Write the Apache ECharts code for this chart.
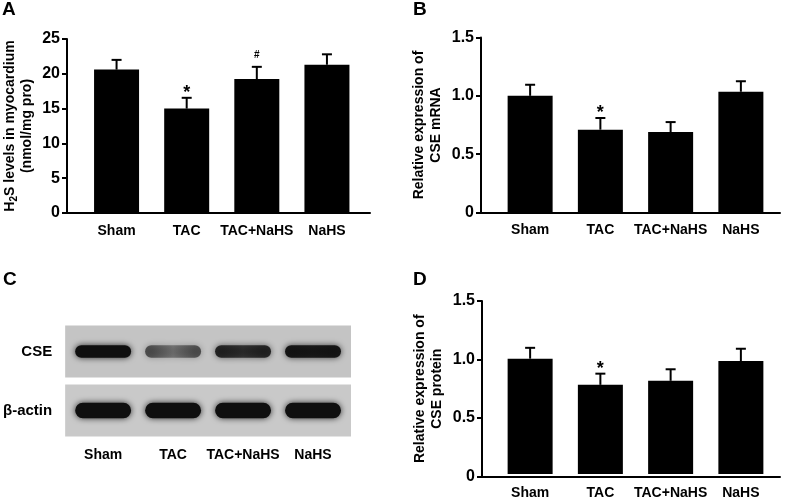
<!DOCTYPE html>
<html><head><meta charset="utf-8">
<script src="https://cdn.jsdelivr.net/npm/echarts@6/dist/echarts.min.js"></script>
<style>html,body{margin:0;padding:0;background:#fff}#c{width:785px;height:500px}</style>
</head><body><div id="c"></div>
<script>
// ---------- data ----------
const categories = ['Sham', 'TAC', 'TAC+NaHS', 'NaHS'];

// Panel A: H2S levels (nmol/mg pro)
const h2sMean = [20.6, 15.0, 19.25, 21.3];
const h2sSem = [1.4, 1.55, 1.75, 1.5];
const h2sMarks = ['', '*', '#', ''];
const h2sTicks = ['0', '5', '10', '15', '20', '25'];

// Panel B: relative CSE mRNA
const mrnaMean = [1.0, 0.71, 0.69, 1.035];
const mrnaSem = [0.095, 0.10, 0.085, 0.09];
const mrnaMarks = ['', '*', '', ''];

// Panel D: relative CSE protein
const proteinMean = [1.0, 0.773, 0.808, 0.98];
const proteinSem = [0.094, 0.097, 0.10, 0.106];
const proteinMarks = ['', '*', '', ''];

const relTicks = ['0', '0.5', '1.0', '1.5'];

// Panel C: western blot band intensities (relative darkness)
const blotRows = ['β-actin', 'CSE'];
const cseBand = [1.0, 0.62, 0.85, 0.95];
const actinBand = [1.0, 1.0, 1.0, 1.0];

// ---------- build ----------
const FONT = '"Liberation Sans", Arial, Helvetica, sans-serif';
const grid = [], xAxis = [], yAxis = [], series = [];

function addBarPanel(p) {
  const g = grid.length, xi = xAxis.length, yi = yAxis.length;
  grid.push({left: p.frame[0], top: p.frame[1], width: p.frame[2], height: p.frame[3]});
  grid.push({left: p.plotLeft, top: p.frame[1], width: p.plotWidth, height: p.frame[3]});
  const step = p.max / (p.ticks.length - 1);
  xAxis.push({type: 'value', gridIndex: g, min: 0, max: 1,
    axisLine: {show: true, onZero: false, lineStyle: {color: '#000', width: 2}},
    axisTick: {show: false}, axisLabel: {show: false}, splitLine: {show: false}});
  yAxis.push({type: 'value', gridIndex: g, min: 0, max: p.max, interval: step,
    axisLine: {show: true, onZero: false, lineStyle: {color: '#000', width: 2}},
    axisTick: {show: true, length: 5, lineStyle: {color: '#000', width: 2}},
    axisLabel: {color: '#000', fontSize: 16, fontWeight: 'bold', fontFamily: FONT, margin: 7,
      formatter: v => p.ticks[Math.round(v / step)]},
    splitLine: {show: false},
    name: p.name, nameLocation: 'middle', nameGap: p.nameGap,
    nameTextStyle: {color: '#000', fontSize: 14, fontWeight: 'bold', fontFamily: FONT, lineHeight: 17,
      rich: {s: {fontSize: 10, fontWeight: 'bold', fontFamily: FONT, color: '#000', verticalAlign: 'bottom'}}}});
  xAxis.push({type: 'category', gridIndex: g + 1, data: categories,
    axisLine: {show: false}, axisTick: {show: false},
    axisLabel: {interval: 0, margin: p.labelMargin, color: '#000', fontSize: 14, fontWeight: 'bold', fontFamily: FONT}});
  yAxis.push({type: 'value', gridIndex: g + 1, min: 0, max: p.max, show: false});
  series.push({type: 'bar', xAxisIndex: xi + 1, yAxisIndex: yi + 1, data: p.mean, barWidth: 45,
    itemStyle: {color: '#000'}, silent: true, animation: false});
  series.push({type: 'custom', xAxisIndex: xi + 1, yAxisIndex: yi + 1, silent: true, animation: false,
    data: p.mean.map((m, i) => [i, m, p.sem[i]]),
    renderItem: function (params, api) {
      const i = api.value(0), m = api.value(1), s = api.value(2);
      const base = api.coord([i, m]);
      const top = api.coord([i, m + s]);
      const x = top[0];
      const ch = [
        {type: 'line', shape: {x1: x, y1: base[1], x2: x, y2: top[1]}, style: {stroke: '#000', lineWidth: 2}},
        {type: 'line', shape: {x1: x - 5, y1: top[1], x2: x + 5, y2: top[1]}, style: {stroke: '#000', lineWidth: 2}}
      ];
      const mk = p.marks[params.dataIndex];
      if (mk) {
        const star = mk === '*';
        ch.push({type: 'text', style: {text: mk, x: x, y: top[1] - (star ? 5 : 12),
          align: 'center', verticalAlign: 'middle', fontSize: star ? 18 : 10, fontWeight: 'bold',
          fontFamily: FONT, fill: '#000'}});
      }
      return {type: 'group', children: ch};
    }});
}

addBarPanel({frame: [67, 39, 303, 174], plotLeft: 81.5, plotWidth: 280.5, max: 25, ticks: h2sTicks,
  mean: h2sMean, sem: h2sSem, marks: h2sMarks, labelMargin: 11, nameGap: 31,
  name: 'H{s|2}S levels in myocardium\n(nmol/mg pro)'});
addBarPanel({frame: [481, 37.5, 299, 175], plotLeft: 495, plotWidth: 281, max: 1.5, ticks: relTicks,
  mean: mrnaMean, sem: mrnaSem, marks: mrnaMarks, labelMargin: 11, nameGap: 36,
  name: 'Relative expression of\nCSE mRNA'});
addBarPanel({frame: [482, 301, 298, 175.5], plotLeft: 495, plotWidth: 281, max: 1.5, ticks: relTicks,
  mean: proteinMean, sem: proteinSem, marks: proteinMarks, labelMargin: 12, nameGap: 36,
  name: 'Relative expression of\nCSE protein'});

// blot panel
const gb = grid.length, xb = xAxis.length, yb = yAxis.length;
grid.push({left: 64, top: 322, width: 284, height: 118});
xAxis.push({type: 'category', gridIndex: gb, data: categories, axisLine: {show: false}, axisTick: {show: false},
  axisLabel: {interval: 0, margin: 8, color: '#000', fontSize: 14, fontWeight: 'bold', fontFamily: FONT}});
yAxis.push({type: 'category', gridIndex: gb, data: blotRows, axisLine: {show: false}, axisTick: {show: false},
  axisLabel: {margin: 16, color: '#000', fontSize: 15, fontWeight: 'bold', fontFamily: FONT}});
const gelShade = ['#c9c9c9', '#c4c4c4'];
series.push({type: 'custom', xAxisIndex: xb, yAxisIndex: yb, silent: true, animation: false,
  data: blotRows.map((r, k) => [0, k]),
  renderItem: function (params, api) {
    const cs = params.coordSys;
    const k = api.value(1);
    const cy = api.coord([0, k])[1];
    const h = api.size([0, 1])[1] * 0.88;
    return {type: 'rect', shape: {x: cs.x - 3, y: cy - h / 2, width: cs.width + 6, height: h},
      style: {fill: gelShade[k]}};
  }});
const bandData = [];
actinBand.forEach((v, i) => bandData.push([i, 0, v]));
cseBand.forEach((v, i) => bandData.push([i, 1, v]));
series.push({type: 'custom', xAxisIndex: xb, yAxisIndex: yb, silent: true, animation: false,
  data: bandData,
  renderItem: function (params, api) {
    const i = api.value(0), k = api.value(1), a = api.value(2);
    const c = api.coord([i, k]);
    const w = api.size([1, 0])[0] * 0.8;
    const h = api.size([0, 1])[1] * (k === 1 ? 0.21 : 0.26);
    const dark = 'rgba(15,15,15,' + a + ')';
    const mid = 'rgba(15,15,15,' + (a * a) + ')';
    return {type: 'rect', shape: {x: c[0] - w / 2, y: c[1] - h / 2, width: w, height: h, r: h / 2},
      style: {fill: new echarts.graphic.LinearGradient(0, 0, 1, 0, [
          {offset: 0, color: dark}, {offset: 0.5, color: mid}, {offset: 1, color: dark}]),
        shadowBlur: 6, shadowColor: 'rgba(15,15,15,' + (a * 0.85) + ')'}};
  }});

const letter = (t, l, tp) => ({text: t, left: l, top: tp, padding: 0,
  textStyle: {fontSize: 19, fontWeight: 'bold', fontFamily: FONT, color: '#000'}});

const chart = echarts.init(document.getElementById('c'), null, {renderer: 'canvas'});
chart.setOption({
  backgroundColor: '#fff',
  animation: false,
  title: [letter('A', 2, 0), letter('B', 413, 0), letter('C', 3, 270), letter('D', 413, 270)],
  grid: grid, xAxis: xAxis, yAxis: yAxis, series: series
});
</script></body></html>
